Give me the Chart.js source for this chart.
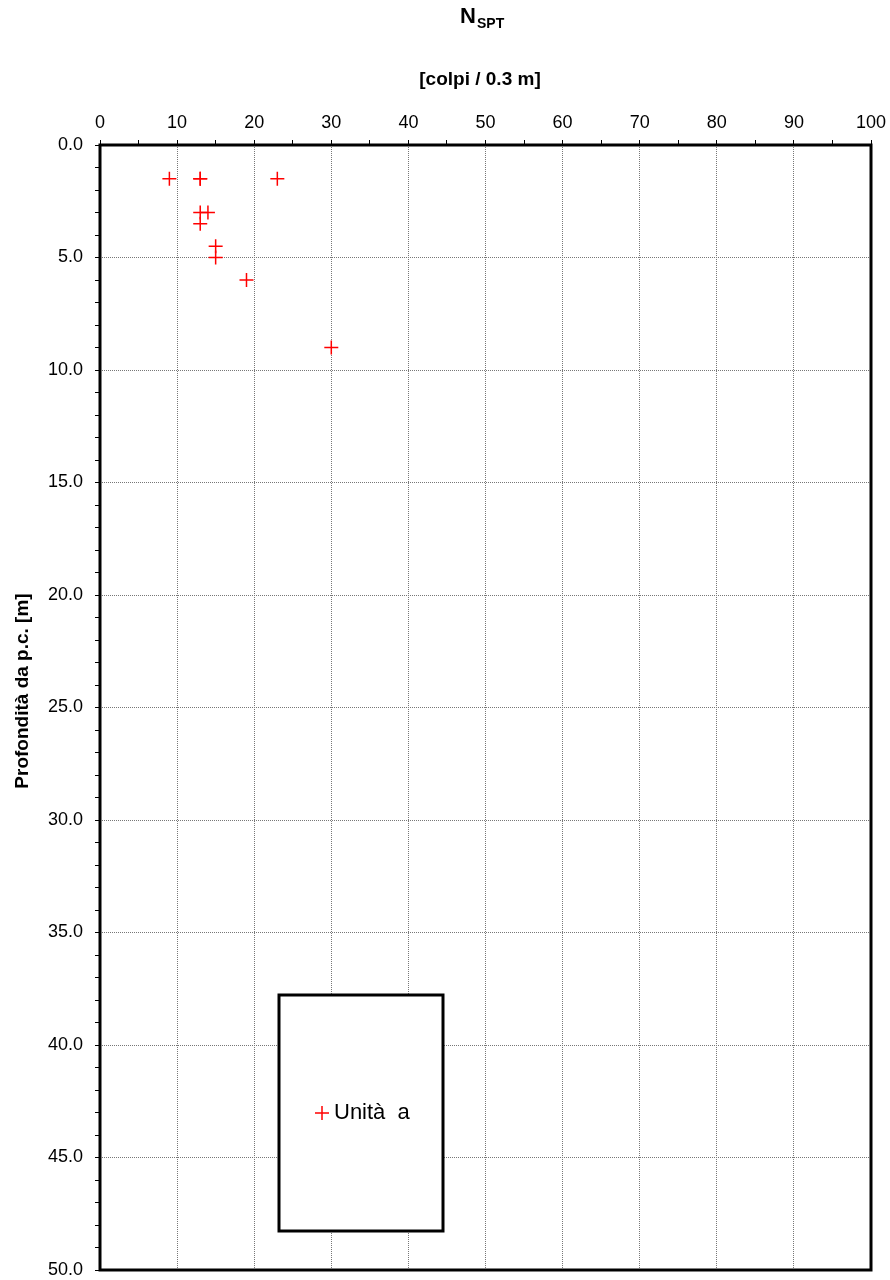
<!DOCTYPE html>
<html>
<head>
<meta charset="utf-8">
<script src="https://cdn.jsdelivr.net/npm/chart.js@4/dist/chart.umd.min.js"></script>
<style>
  body { margin: 0; background: #fff; }
  canvas { display: block; }
</style>
</head>
<body>
<canvas id="sptChart" width="890" height="1280"></canvas>
<script>
// N_SPT readings (blows / 0.3 m) and their depths below ground (m)
const nsptValues = [9, 13, 13, 23, 13, 14, 13, 15, 15, 19, 30];
const depthValues = [1.5, 1.5, 1.5, 1.5, 3, 3, 3.5, 4.5, 5, 6, 9];
const seriesLabel = 'Unità  a';

const xMin = 0, xMax = 100, xMinorStep = 5, xMajorStep = 10;
const yMin = 0, yMax = 50, yMinorStep = 1, yMajorStep = 5;

const fontFamily = '"Liberation Sans", Arial, sans-serif';

const points = nsptValues.map((v, i) => ({ x: v, y: depthValues[i] }));

// titles, frame and the boxed legend
const decorPlugin = {
    id: 'decor',
    afterDatasetsDraw(chart) {
        const ctx = chart.ctx;
        const area = chart.chartArea;
        ctx.save();

        // legend box
        const bx = 279, by = 995, bw = 164, bh = 236;
        ctx.fillStyle = '#fff';
        ctx.fillRect(bx, by, bw, bh);
        ctx.strokeStyle = '#000';
        ctx.lineWidth = 3;
        ctx.strokeRect(bx, by, bw, bh);

        const mx = 322, my = 1113;
        ctx.strokeStyle = '#ff0000';
        ctx.lineWidth = 1.5;
        ctx.beginPath();
        ctx.moveTo(mx - 7, my); ctx.lineTo(mx + 7, my);
        ctx.moveTo(mx, my - 7); ctx.lineTo(mx, my + 7);
        ctx.stroke();

        ctx.fillStyle = '#000';
        ctx.font = '22px ' + fontFamily;
        ctx.textAlign = 'left';
        ctx.textBaseline = 'middle';
        ctx.fillText(seriesLabel, 334, my);

        // plot frame
        ctx.strokeStyle = '#000';
        ctx.lineWidth = 3;
        ctx.strokeRect(area.left, area.top, area.right - area.left, area.bottom - area.top);

        // title N_SPT
        ctx.textBaseline = 'alphabetic';
        ctx.font = 'bold 22px ' + fontFamily;
        ctx.fillText('N', 460, 23);
        ctx.font = 'bold 14px ' + fontFamily;
        ctx.fillText('SPT', 477, 28);

        ctx.font = 'bold 19px ' + fontFamily;
        ctx.textAlign = 'center';
        ctx.fillText('[colpi / 0.3 m]', 480, 85);

        // y axis title
        ctx.translate(23, 691);
        ctx.rotate(-Math.PI / 2);
        ctx.textBaseline = 'middle';
        ctx.fillText('Profondità da p.c. [m]', 0, 0);

        ctx.restore();
    }
};

new Chart(document.getElementById('sptChart'), {
    type: 'scatter',
    data: {
        datasets: [{
            label: seriesLabel,
            data: points,
            pointStyle: 'cross',
            pointRadius: 7,
            pointHoverRadius: 7,
            borderColor: '#ff0000',
            backgroundColor: '#ff0000',
            borderWidth: 1.5,
            showLine: false
        }]
    },
    options: {
        responsive: false,
        animation: false,
        layout: { padding: { left: 0, right: 19, top: 0, bottom: 10 } },
        plugins: {
            legend: { display: false },
            tooltip: { enabled: false }
        },
        scales: {
            x: {
                type: 'linear',
                position: 'top',
                min: xMin,
                max: xMax,
                afterFit: (scale) => {
                    scale.height = 145;
                    scale.paddingLeft = 0;
                    scale.paddingRight = 0;
                },
                ticks: {
                    stepSize: xMinorStep,
                    autoSkip: false,
                    maxRotation: 0,
                    padding: 6,
                    color: '#000',
                    font: { family: fontFamily, size: 18 },
                    callback: (v) => (v % xMajorStep === 0 ? String(v) : '')
                },
                grid: {
                    color: (c) => {
                        const v = c.tick ? c.tick.value : 0;
                        return v % xMajorStep === 0 && v !== xMin && v !== xMax ? '#777' : 'rgba(0,0,0,0)';
                    },
                    lineWidth: 1,
                    drawTicks: true,
                    tickLength: 5,
                    tickColor: '#000',
                    tickWidth: 1,
                    tickBorderDash: []
                },
                border: { display: false, dash: [1, 1] }
            },
            y: {
                type: 'linear',
                reverse: true,
                min: yMin,
                max: yMax,
                afterFit: (scale) => {
                    scale.width = 100;
                    scale.paddingTop = 0;
                    scale.paddingBottom = 0;
                },
                ticks: {
                    stepSize: yMinorStep,
                    autoSkip: false,
                    padding: 12,
                    color: '#000',
                    font: { family: fontFamily, size: 18 },
                    callback: (v) => (v % yMajorStep === 0 ? v.toFixed(1) : '')
                },
                grid: {
                    color: (c) => {
                        const v = c.tick ? c.tick.value : 0;
                        return v % yMajorStep === 0 && v !== yMin && v !== yMax ? '#777' : 'rgba(0,0,0,0)';
                    },
                    lineWidth: 1,
                    drawTicks: true,
                    tickLength: 5,
                    tickColor: '#000',
                    tickWidth: 1,
                    tickBorderDash: []
                },
                border: { display: false, dash: [1, 1] }
            }
        }
    },
    plugins: [decorPlugin]
});
</script>
</body>
</html>
